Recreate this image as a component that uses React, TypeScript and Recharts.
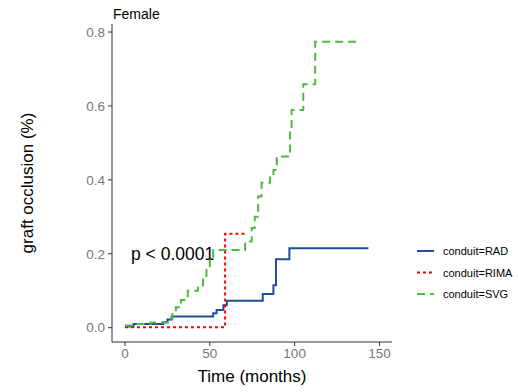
import { LineChart, Line, XAxis, YAxis, Customized } from "recharts";

// step start times (months) and cumulative occlusion per conduit
const radTime = [0, 5, 22.6, 25, 27.5, 52, 54, 58, 60, 81.2, 87.5, 89, 96.9, 143.5];
const radOcc = [0.003, 0.01, 0.015, 0.022, 0.03, 0.039, 0.048, 0.061, 0.073, 0.091, 0.115, 0.185, 0.215, 0.215];

const rimaTime = [0, 59, 72];
const rimaOcc = [0.001, 0.254, 0.254];

const svgTime = [0, 5, 15, 26, 28, 30, 33, 37, 43, 46, 48, 50, 52, 70.8, 74.7, 76.5, 78.5, 80.5, 85.5, 87.5, 89.5, 97.3, 98.2, 105.1, 112.1, 137.6];
const svgOcc = [0.006, 0.01, 0.014, 0.025, 0.04, 0.055, 0.075, 0.1, 0.115, 0.135, 0.156, 0.183, 0.21, 0.233, 0.27, 0.3, 0.355, 0.392, 0.413, 0.427, 0.463, 0.535, 0.589, 0.659, 0.774, 0.774];

const xTicks = [0, 50, 100, 150];
const yTicks = [0, 0.2, 0.4, 0.6, 0.8];

const series = [
  { name: "conduit=RAD", color: "#1f4e9c", dash: undefined, time: radTime, occ: radOcc },
  { name: "conduit=RIMA", color: "#ff0000", dash: "3 3", time: rimaTime, occ: rimaOcc },
  { name: "conduit=SVG", color: "#4cbb3f", dash: "8 5", time: svgTime, occ: svgOcc },
];

const toPoints = (time: number[], occ: number[]) =>
  time.map((t, i) => ({ t, v: occ[i] }));

const font = "'Liberation Sans', Arial, sans-serif";

function Annotations() {
  return (
    <g fontFamily={font}>
      <text x={113} y={19} fontSize={14} fill="#000">Female</text>
      <text
        x={27}
        y={183}
        fontSize={17}
        fill="#000"
        textAnchor="middle"
        dominantBaseline="central"
        transform="rotate(-90 27 183)"
      >
        graft occlusion (%)
      </text>
      <text x={252} y={376} fontSize={17} fill="#000" textAnchor="middle" dominantBaseline="central">
        Time (months)
      </text>
      <text x={131} y={260} fontSize={17.5} fill="#000">p &lt; 0.0001</text>
      {series.map((s, i) => (
        <g key={s.name}>
          <line
            x1={417}
            x2={434}
            y1={251 + i * 21.5}
            y2={251 + i * 21.5}
            stroke={s.color}
            strokeWidth={2}
            strokeDasharray={s.dash}
          />
          <text x={443} y={251 + i * 21.5} fontSize={11} fill="#000" dominantBaseline="central">
            {s.name}
          </text>
        </g>
      ))}
    </g>
  );
}

export default function App() {
  return (
    <div style={{ position: "absolute", left: 0, top: 0, width: 518, height: 392, background: "#fff" }}>
      <LineChart width={518} height={392} margin={{ top: 24, right: 126, bottom: 0, left: 0 }}>
        <XAxis
          type="number"
          dataKey="t"
          domain={[-7.66, 157.4]}
          allowDataOverflow
          ticks={xTicks}
          height={50}
          tickSize={4}
          tickMargin={2}
          stroke="#333"
          tick={{ fill: "#777", fontSize: 13.5, fontFamily: font }}
        />
        <YAxis
          type="number"
          domain={[-0.0387, 0.8217]}
          allowDataOverflow
          ticks={yTicks}
          width={112}
          tickSize={4}
          tickMargin={3}
          stroke="#333"
          tickFormatter={(v: number) => v.toFixed(1)}
          tick={{ fill: "#777", fontSize: 13.5, fontFamily: font }}
        />
        {series.map((s) => (
          <Line
            key={s.name}
            data={toPoints(s.time, s.occ)}
            dataKey="v"
            type="stepAfter"
            stroke={s.color}
            strokeWidth={2}
            strokeDasharray={s.dash}
            dot={false}
            isAnimationActive={false}
          />
        ))}
        <Customized component={Annotations} />
      </LineChart>
    </div>
  );
}
